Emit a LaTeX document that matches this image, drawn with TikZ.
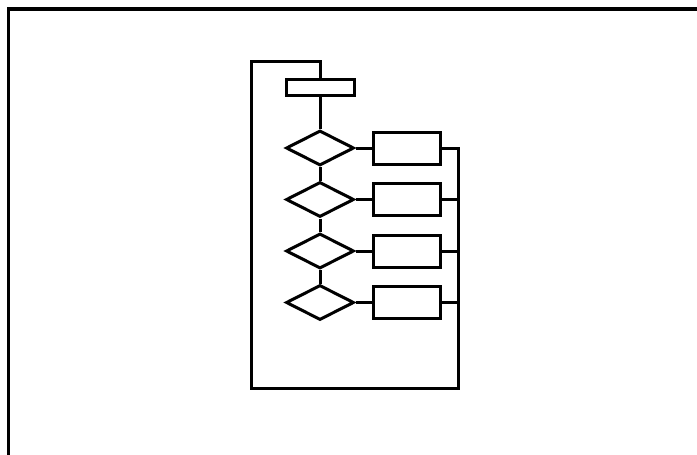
\documentclass[tikz,border=0pt]{standalone}
\usetikzlibrary{shapes.geometric}
\begin{document}
\begin{tikzpicture}[x=1pt,y=-1pt,
  line width=3pt,
  stepbox/.style={draw, rectangle, minimum width=67pt, minimum height=32pt, inner sep=0pt},
  startbox/.style={draw, rectangle, minimum width=68pt, minimum height=16pt, inner sep=0pt},
  test/.style={draw, diamond, minimum width=68pt, minimum height=35pt, inner sep=0pt},
  link/.style={draw, line join=miter}
]
\useasboundingbox (0,0) rectangle (697,455);
% page frame: top and left rules
\draw[line width=3.2pt] (8.5,455) -- (8.5,9) -- (697,9);

% process start and decision chain
\node[startbox] (start) at (320,87) {};
\node[test] (d1) at (320,148) {};
\node[test] (d2) at (320,199.5) {};
\node[test] (d3) at (320,251) {};
\node[test] (d4) at (320,302.5) {};

\node[stepbox] (b1) at (406.5,148) {};
\node[stepbox] (b2) at (406.5,199.5) {};
\node[stepbox] (b3) at (406.5,251) {};
\node[stepbox] (b4) at (406.5,302.5) {};

% loop corners
\coordinate (tl) at (251,61);
\coordinate (bl) at (251,388);
\coordinate (br) at (458,388);

% vertical chain
\draw[link] (start.south) -- (d1.north);
\draw[link] (d1.south) -- (d2.north);
\draw[link] (d2.south) -- (d3.north);
\draw[link] (d3.south) -- (d4.north);

% branches to the boxes
\foreach \i in {1,...,4}{
  \draw[link] (d\i.east) -- (b\i.west);
}
\foreach \i in {2,3,4}{
  \draw[link] (b\i.east) -- (br |- b\i.east);
}

% return loop back to the start
\draw[link] (b1.east) -- (br |- b1.east) -- (br) -- (bl) -- (tl) -- (start.north |- tl) -- (start.north);
\end{tikzpicture}
\end{document}
